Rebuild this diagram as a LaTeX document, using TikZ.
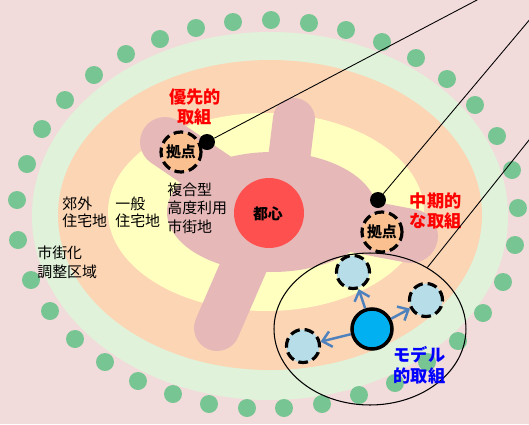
\documentclass[tikz,border=0pt]{standalone}
\usepackage{fontspec}
\setmainfont{Noto Sans CJK JP}
\usetikzlibrary{positioning,shapes.geometric,arrows.meta}

\definecolor{haikei}{HTML}{F2DCDB}
\definecolor{midori}{HTML}{E0F3DA}
\definecolor{daidai}{HTML}{FCD5B5}
\definecolor{kiiro}{HTML}{FFFFC0}
\definecolor{michi}{HTML}{E6B9B8}
\definecolor{toshin}{HTML}{FF5050}
\definecolor{ryokuchi}{HTML}{77C593}
\definecolor{kyotenfill}{HTML}{FAC090}
\definecolor{usuao}{HTML}{B7DEE8}
\definecolor{aoi}{HTML}{00B0F0}
\definecolor{yajirushi}{HTML}{4F81BD}

\tikzset{
    road/.style={draw=michi, line cap=round},
    kyoten/.style={circle, draw=black, line width=1.8pt, dash pattern=on 5.5pt off 2.8pt,
        fill=kyotenfill, minimum size=0.8cm, inner sep=0pt, font=\bfseries\fontsize{8.5}{9}\selectfont},
    pin/.style={circle, fill=black, minimum size=0.32cm, inner sep=0pt},
    zonetext/.style={anchor=west, align=left, inner sep=0pt, font=\fontsize{8.5}{9.6}\selectfont},
    tag/.style={align=center, inner sep=0pt, font=\bfseries\fontsize{9.8}{11.6}\selectfont},
    subnode/.style={circle, draw=black, line width=1.8pt, dash pattern=on 5.5pt off 2.8pt,
        fill=usuao, minimum size=0.66cm, inner sep=0pt},
    hubnode/.style={circle, draw=black, line width=2pt, fill=aoi, minimum size=0.8cm, inner sep=0pt},
    spread/.style={draw=yajirushi, line width=1.4pt, -{Straight Barb[length=5pt,width=9pt]}},
    callout/.style={draw=black, line width=0.5pt},
}

\begin{document}
\begin{tikzpicture}[x=0.02cm, y=-0.02cm]
    \useasboundingbox (0,0) rectangle (529,424);
    \clip (0,0) rectangle (529,424);
    % 背景
    \fill[haikei] (0,0) rectangle (529,424);
    % 市街化調整区域
    \fill[midori] (270,216) ellipse [x radius=238, y radius=184];
    \foreach \x/\y in {196/28, 233/22, 271/20, 309/23, 346/30, 382/42, 416/58, 447/79,
        475/105, 497/136, 512/170, 518/208, 515/245, 503/282, 483/313, 458/341,
        427/362, 395/383, 359/395, 322/404, 284/408, 247/408, 209/404, 173/394,
        138/381, 105/362, 75/339, 50/311, 31/280, 18/240, 17/200, 27/164,
        42/129, 65/100, 94/75, 126/54, 160/39}
        \fill[ryokuchi] (\x,\y) circle (9);
    % 郊外・一般
    \fill[daidai] (270,215) ellipse [x radius=212, y radius=155];
    \fill[kiiro] (266,212) ellipse [x radius=158, y radius=99];
    % 複合型高度利用市街地
    \fill[michi] (272,212) ellipse [x radius=105, y radius=60];
    \draw[road, line width=1cm] (165,142) -- (262,208);
    \draw[road, line width=0.84cm] (284,200) -- (294,119);
    \draw[road, line width=0.92cm] (266,215) -- (217,328);
    \draw[road, line width=1.08cm] (300,215) -- (411,236);
    % 都心
    \fill[toshin] (269,213) circle (35);
    \node[font=\bfseries\fontsize{8.5}{9}\selectfont] (core) at (268,214) {都心};

    \node[zonetext] (kougai) at (62,212) {郊外\\住宅地};
    \node[zonetext] (ippan) at (115,212) {一般\\住宅地};
    \node[zonetext, font=\fontsize{8.5}{10.8}\selectfont] (chosei) at (37,262) {市街化\\調整区域};
    \node[zonetext, font=\fontsize{8.5}{10.5}\selectfont] (fukugo) at (167,208) {複合型\\高度利用\\市街地};

    % 拠点
    \node[kyoten] (k1) at (181,152) {拠点};
    \node[kyoten] (k2) at (382,232) {拠点};
    \node[pin] (d1) at (207,142) {};
    \node[pin] (d2) at (378,200) {};
    \node[tag, text=red, above=0.1cm of k1, xshift=0.28cm] (yusen) {優先的\\取組};
    \node[tag, text=red, right=0.12cm of k2, yshift=0.42cm] (chuki) {中期的\\な取組};

    % モデル
    \node[draw=black, line width=0.6pt, ellipse, minimum width=3.84cm, minimum height=3.04cm,
        inner sep=0pt] (model) at (370,329) {};
    \node[hubnode] (hub) at (372,329) {};
    \node[subnode] (s1) at (353,272) {};
    \node[subnode] (s2) at (426,300) {};
    \node[subnode] (s3) at (303,346) {};
    \foreach \s in {s1,s2,s3}
        \draw[spread] (hub) -- (\s);
    \node[tag, text=blue, below right=0.04cm and 0.12cm of hub] (moderu) {モデル\\的取組};

    % 引出線
    \coordinate (far1) at (496,-10);
    \coordinate (far2) at (563,-20);
    \coordinate (far3) at (545,120);
    \draw[callout] (d1) -- (far1);
    \draw[callout] (d2) -- (far2);
    \draw[callout] (model.47) -- (far3);
\end{tikzpicture}
\end{document}
